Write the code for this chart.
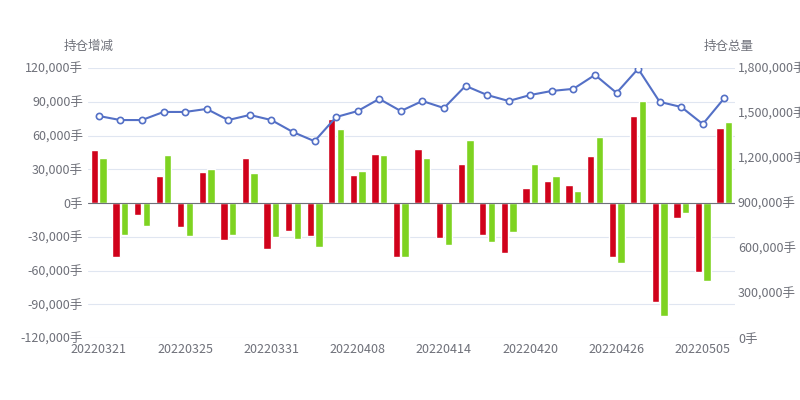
import numpy as np, pandas as pd, matplotlib
matplotlib.use("Agg")
import matplotlib.pyplot as plt, seaborn as sns
from matplotlib.ticker import FuncFormatter

dates = ["20220321","20220322","20220323","20220324","20220325","20220328","20220329","20220330","20220331","20220401",
         "20220406","20220407","20220408","20220411","20220412","20220413","20220414","20220415","20220418","20220419",
         "20220420","20220421","20220422","20220425","20220426","20220427","20220428","20220429","20220505","20220506"]
red = [47000,-48000,-11000,24000,-21000,27500,-33000,40000,-41000,-25000,-29000,75000,25000,44000,-48000,48000,-31000,35000,-28000,-44000,
       13000,19500,16000,42000,-48000,77000,-88000,-13000,-61000,67000]
green = [40000,-28000,-20000,43000,-29000,30000,-28000,26500,-30000,-32000,-39000,66000,28500,43000,-48000,40000,-37000,56000,-35000,-26000,
         35000,24000,10500,59000,-53000,91000,-100000,-9000,-69000,72000]
total = [1480000,1453000,1453000,1507000,1507000,1527000,1453000,1487000,1453000,1373000,1312000,1473000,1513000,1594000,1513000,1580000,
         1533000,1681000,1620000,1580000,1620000,1647000,1661000,1754000,1634000,1795000,1574000,1540000,1426000,1600000]

sns.set_theme(style="white")
plt.rcParams['font.family'] = ['Noto Sans CJK SC', 'DejaVu Sans']

df = pd.DataFrame({"date": dates*2, "v": red+green, "s": ["a"]*30+["b"]*30})
fig = plt.figure(figsize=(8,4), dpi=100)
ax = fig.add_axes([0.11, 0.155, 0.809, 0.675])
sns.barplot(data=df, x="date", y="v", hue="s", palette=["#d0021b","#7ed321"], ax=ax, width=0.8, legend=False, saturation=1)
for p in ax.patches:
    w = p.get_width()
    p.set_width(w*0.85)
    p.set_x(p.get_x() + w*0.075)
ax.set_ylim(-120000, 120000)
ax.set_yticks(np.arange(-120000, 120001, 30000))
ax.yaxis.set_major_formatter(FuncFormatter(lambda v,p: f"{int(v):,}手"))
ax.grid(axis="y", color="#e0e6f1", lw=0.8)
ax.set_axisbelow(True)
ax.axhline(0, color="#6e7079", lw=0.8)
ax.set_xticks(range(0,30,4))
ax.set_xticklabels(dates[0:30:4])
ax.set_xlabel(""); ax.set_ylabel("")
for s in ax.spines.values(): s.set_visible(False)
ax.tick_params(colors="#6e7079", labelsize=9, length=0)
ax.set_xlim(-0.5, 29.5)

ax2 = ax.twinx()
sns.lineplot(x=np.arange(30), y=total, ax=ax2, color="#5470c6", lw=1.5, marker="o",
             markerfacecolor="white", markeredgecolor="#5470c6", markersize=4.5, markeredgewidth=1.2)
ax2.set_ylim(0, 1800000)
ax2.set_yticks(np.arange(0, 1800001, 300000))
ax2.yaxis.set_major_formatter(FuncFormatter(lambda v,p: f"{int(v):,}手"))
for s in ax2.spines.values(): s.set_visible(False)
ax2.tick_params(colors="#6e7079", labelsize=9, length=0, pad=2)
ax2.grid(False)
fig.text(0.08, 0.875, "持仓增减", color="#6e7079", fontsize=9)
fig.text(0.88, 0.875, "持仓总量", color="#6e7079", fontsize=9)
fig.savefig("out.png")
